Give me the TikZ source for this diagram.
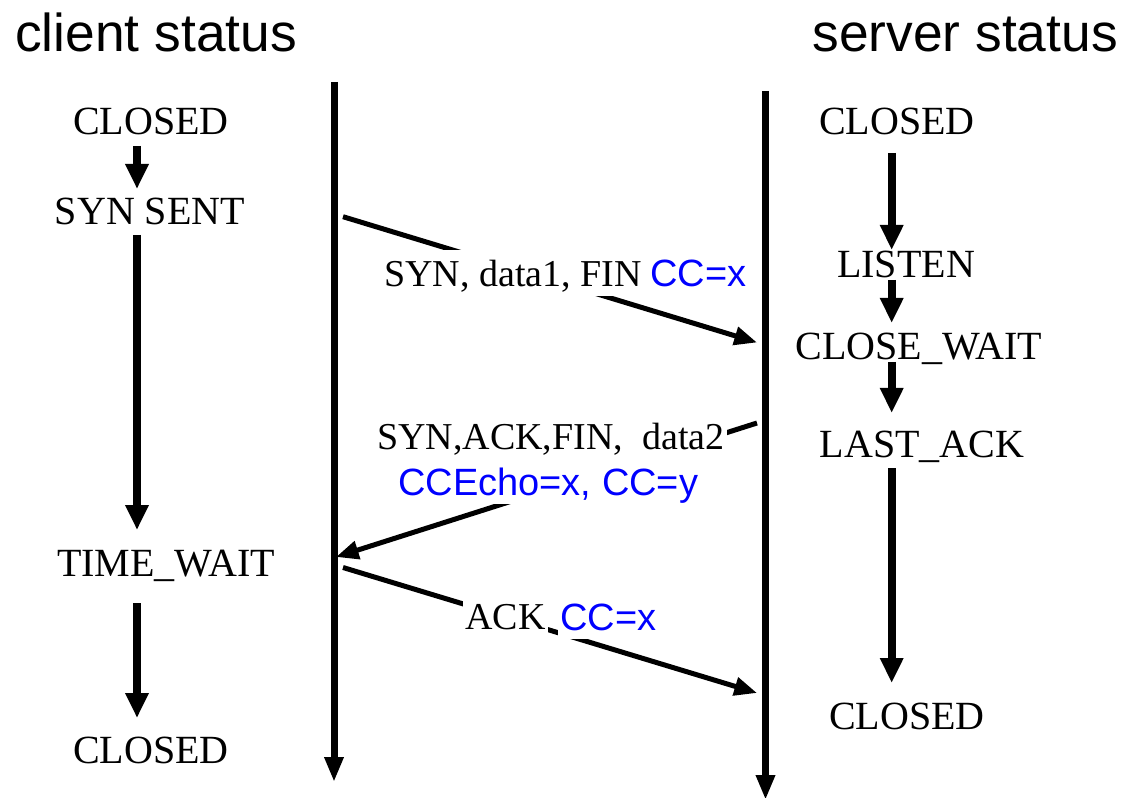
\documentclass[tikz,border=0pt]{standalone}
\usepackage{fontspec}
\setmainfont{Liberation Serif}
\newfontfamily\arialfont{Liberation Sans}
\usetikzlibrary{arrows.meta}
\definecolor{ccblue}{RGB}{0,0,255}

\begin{document}
\begin{tikzpicture}[x=0.75pt,y=-0.75pt,
  title/.style={font=\arialfont\fontsize{40}{48}\selectfont, inner sep=0pt},
  state/.style={font=\fontsize{30}{36}\selectfont, inner sep=0pt, anchor=base},
  timeline/.style={line width=5.25pt, -{Triangle[length=18.75pt,width=13.5pt]}},
  stateflow/.style={line width=6pt, -{Triangle[length=18.75pt,width=16.5pt]}},
  msg/.style={line width=3.75pt, -{Triangle[length=17pt,width=13.5pt]}},
  msglabel/.style={font=\fontsize{28.5}{34}\selectfont, fill=white,
    inner xsep=1.5pt, inner ysep=2pt, text height=25.5pt, text depth=5pt,
    anchor=base west},
  cclabel/.style={msglabel, font=\arialfont\fontsize{28.5}{34}\selectfont, text=ccblue},
]
\useasboundingbox (0,0) rectangle (1124,798);

% column headings
\node[title, anchor=base west] (ctitle) at (15,52) {client status};
\node[title, anchor=base east] (stitle) at (1118,52) {server status};

% time lines of both hosts
\coordinate (ctop) at (334,82);
\coordinate (cbot) at (334,782);
\coordinate (stop) at (765.5,91);
\coordinate (sbot) at (765.5,800);
\draw[timeline] (ctop) -- (cbot);
\draw[timeline] (stop) -- (sbot);

% client states
\node[state] (c0) at (151,135) {CLOSED};
\node[state] (c1) at (150,225) {SYN SENT};
\node[state] (c2) at (166,576) {TIME\_WAIT};
\node[state] (c3) at (151,763) {CLOSED};

% server states
\node[state] (s0) at (897,135) {CLOSED};
\node[state] (s1) at (906,278) {LISTEN};
\node[state] (s2) at (919,359) {CLOSE\_WAIT};
\node[state] (s3) at (922,457) {LAST\_ACK};
\node[state] (s4) at (907,729) {CLOSED};

% client state transitions
\coordinate (c0b) at (137,146);  \coordinate (c1t) at (137,189);
\coordinate (c1b) at (137,235);  \coordinate (c2t) at (137,530);
\coordinate (c2b) at (137,603);  \coordinate (c3t) at (137,718);
\draw[stateflow] (c0b) -- (c1t);
\draw[stateflow] (c1b) -- (c2t);
\draw[stateflow] (c2b) -- (c3t);

% server state transitions
\coordinate (s0b) at (891.7,153); \coordinate (s1t) at (891.7,250);
\coordinate (s1b) at (891.7,280); \coordinate (s2t) at (891.7,323);
\coordinate (s2b) at (891.7,362); \coordinate (s3t) at (891.7,413);
\coordinate (s3b) at (891.7,468); \coordinate (s4t) at (891.7,683);
\draw[stateflow] (s0b) -- (s1t);
\draw[stateflow] (s1b) -- (s2t);
\draw[stateflow] (s2b) -- (s3t);
\draw[stateflow] (s3b) -- (s4t);

% segments exchanged
\coordinate (m1a) at (343,216.7);  \coordinate (m1b) at (757,342.5);
\coordinate (m2a) at (757,423);    \coordinate (m2b) at (336,557);
\coordinate (m3a) at (343,567.5);  \coordinate (m3b) at (757,693);
\draw[msg] (m1a) -- (m1b);
\draw[msg] (m2a) -- (m2b);
\draw[msg] (m3a) -- (m3b);

% segment labels
\node[msglabel] (l1) at (382,287) {SYN, data1, FIN};
\node[cclabel] (l1cc) at (648,287) {CC=x};
\node[msglabel] (l2) at (375,449) {SYN,ACK,FIN,~ data2};
\node[cclabel] (l2cc) at (396,495) {CCEcho=x, CC=y};
\node[msglabel] (l3) at (463,629) {ACK};
\node[cclabel] (l3cc) at (558,630) {CC=x};
\end{tikzpicture}
\end{document}
